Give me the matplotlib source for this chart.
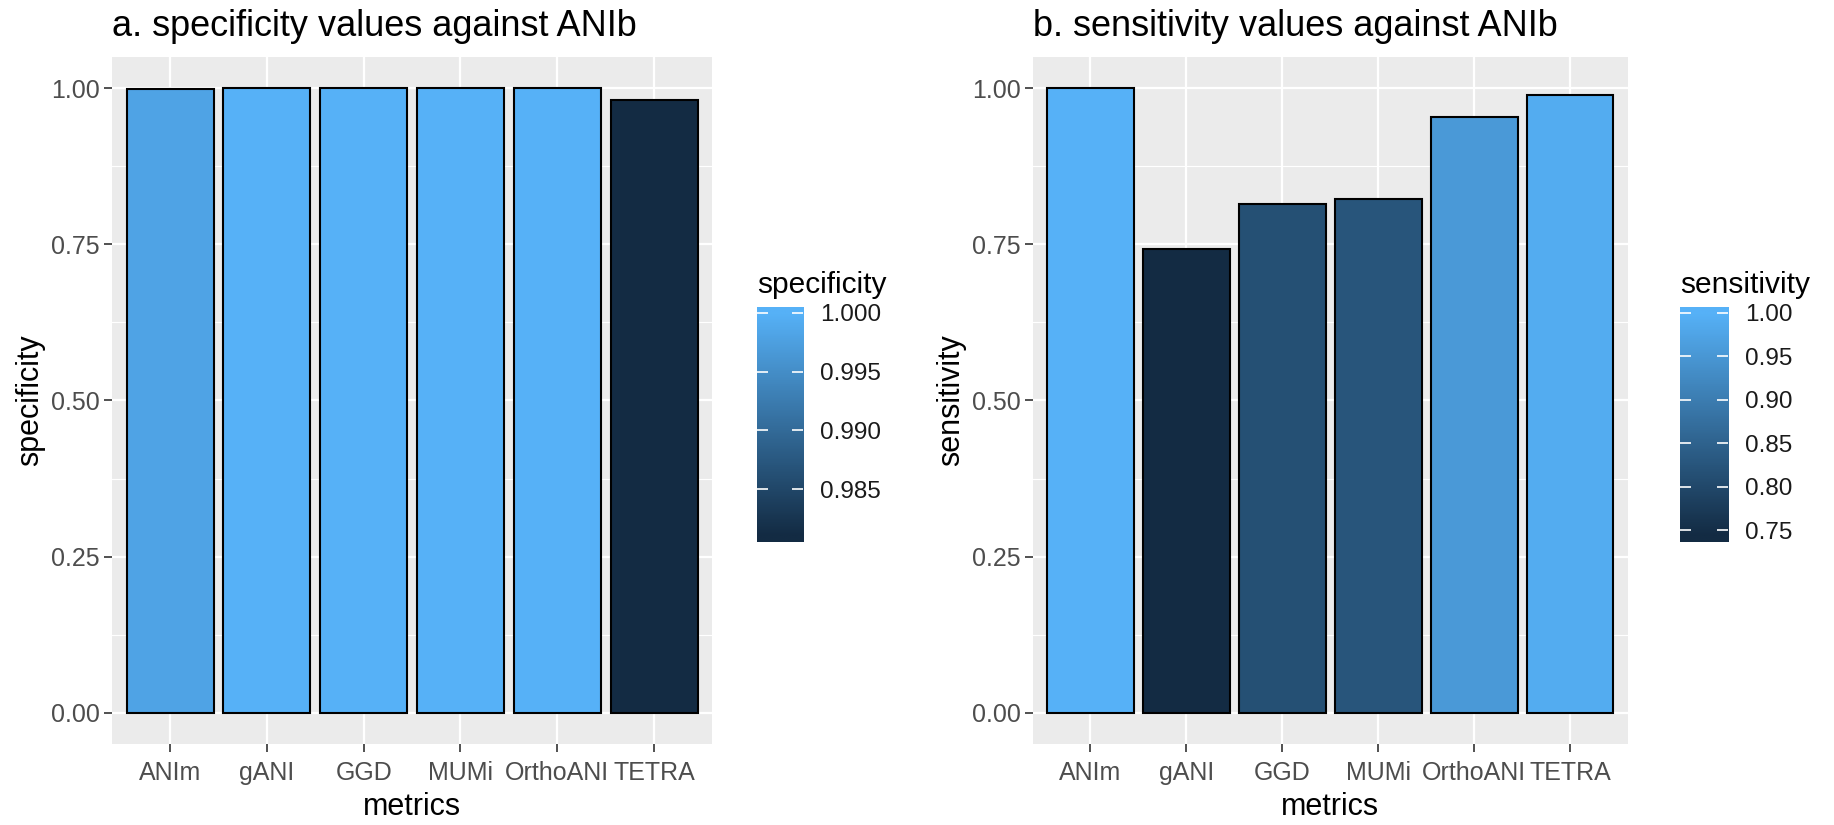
import matplotlib
matplotlib.use("Agg")
import matplotlib.pyplot as plt
import numpy as np
from matplotlib.colors import LinearSegmentedColormap, Normalize

plt.rcParams['font.family'] = ['Liberation Sans', 'DejaVu Sans']

metrics = ['ANIm', 'gANI', 'GGD', 'MUMi', 'OrthoANI', 'TETRA']
specificity = [0.998, 1.0, 1.0, 1.0, 1.0, 0.981]
sensitivity = [1.0, 0.743, 0.814, 0.823, 0.954, 0.989]

spec_ticks = [0.985, 0.990, 0.995, 1.000]
sens_ticks = [0.75, 0.80, 0.85, 0.90, 0.95, 1.00]

# ggplot default continuous fill
cmap = LinearSegmentedColormap.from_list('gg', ['#132B43', '#56B1F7'])

fig = plt.figure(figsize=(18.34, 8.25), dpi=100)


def panel(rect, cbar_rect, values, name, title, cticks, cfmt):
    ax = fig.add_axes(rect)
    ax.set_facecolor('#EBEBEB')
    norm = Normalize(vmin=min(values), vmax=max(values))
    x = np.arange(1, len(metrics) + 1)
    ax.bar(x, values, width=0.9, color=cmap(norm(values)),
           edgecolor='black', linewidth=1.5, zorder=3)
    ax.set_xlim(0.4, len(metrics) + 0.6)
    ax.set_ylim(-0.05, 1.05)
    ax.set_xticks(x)
    ax.set_xticklabels(metrics)
    ax.set_yticks([0, 0.25, 0.5, 0.75, 1.0])
    ax.set_yticklabels(['0.00', '0.25', '0.50', '0.75', '1.00'])
    ax.set_yticks([0.125, 0.375, 0.625, 0.875], minor=True)
    ax.grid(which='major', color='white', linewidth=1.6, zorder=0)
    ax.grid(which='minor', axis='y', color='white', linewidth=0.8, zorder=0)
    ax.set_axisbelow(True)
    for s in ax.spines.values():
        s.set_visible(False)
    ax.tick_params(which='major', length=6, width=1.2, color='#333333',
                   labelsize=18, labelcolor='#4D4D4D')
    ax.tick_params(axis='x', pad=6)
    ax.tick_params(axis='y', pad=3)
    ax.tick_params(which='minor', length=0)
    ax.set_xlabel('metrics', fontsize=22, labelpad=5)
    ax.set_ylabel(name, fontsize=22, labelpad=4)
    ax.set_title(title, loc='left', fontsize=26, pad=15)

    # colorbar drawn like ggplot's: bar a bit longer than the limits
    cax = fig.add_axes(cbar_rect)
    lo, hi = norm.vmin, norm.vmax
    ext = (hi - lo) / 38
    grad = np.linspace(lo - ext, hi + ext, 256)[:, None]
    cax.imshow(grad, cmap=cmap, norm=norm, aspect='auto', origin='lower',
               extent=[0, 1, lo - ext, hi + ext])
    cax.set_xlim(0, 1)
    cax.set_ylim(lo - ext, hi + ext)
    cax.set_xticks([])
    cax.set_yticks(cticks)
    cax.set_yticklabels([cfmt.format(t) for t in cticks])
    cax.yaxis.tick_right()
    for s in cax.spines.values():
        s.set_visible(False)
    cax.tick_params(axis='y', direction='in', color='white', width=1.2, length=8,
                    left=True, right=True, labelleft=False, labelright=True,
                    labelsize=17.5, labelcolor='#1A1A1A', pad=12)
    cax.set_title(name, loc='left', fontsize=21.5, pad=10)
    return ax


panel([0.0611, 0.0982, 0.3272, 0.8327], [0.4128, 0.343, 0.0251, 0.2848],
      specificity, 'specificity', 'a. specificity values against ANIb',
      spec_ticks, '{:.3f}')
panel([0.5632, 0.0982, 0.3244, 0.8327], [0.916, 0.343, 0.0262, 0.2848],
      sensitivity, 'sensitivity', 'b. sensitivity values against ANIb',
      sens_ticks, '{:.2f}')

fig.savefig('out.png', dpi=100)
